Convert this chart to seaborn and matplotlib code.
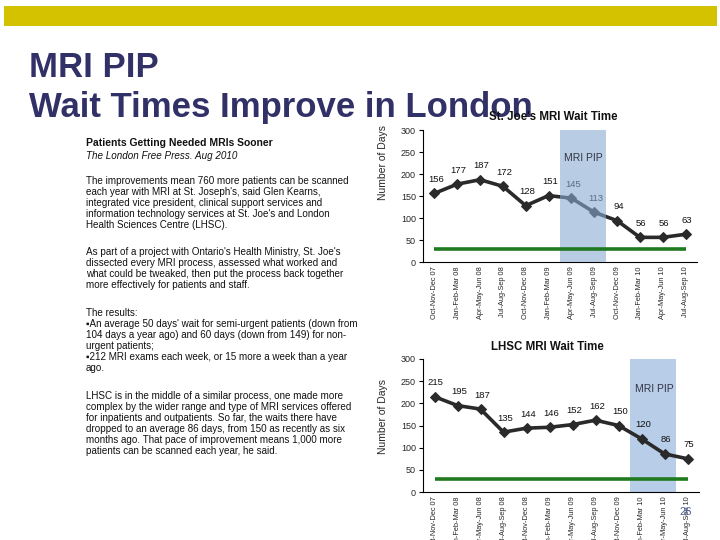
import numpy as np
import pandas as pd
import seaborn as sns
import matplotlib.pyplot as plt
from matplotlib.patches import Rectangle

# Quarterly wait times (days)
periods = ["Oct-Nov-Dec 07", "Jan-Feb-Mar 08", "Apr-May-Jun 08", "Jul-Aug-Sep 08",
           "Oct-Nov-Dec 08", "Jan-Feb-Mar 09", "Apr-May-Jun 09", "Jul-Aug-Sep 09",
           "Oct-Nov-Dec 09", "Jan-Feb-Mar 10", "Apr-May-Jun 10", "Jul-Aug-Sep 10"]
stjoe_days = [156, 177, 187, 172, 128, 151, 145, 113, 94, 56, 56, 63]
lhsc_days = [215, 195, 187, 135, 144, 146, 152, 162, 150, 120, 86, 75]
target_days = 30
stjoe_pip = (6, 7)   # quarters under MRI PIP
lhsc_pip = (9, 10)
yticks = [0, 50, 100, 150, 200, 250, 300]

sns.set_theme(style='white')
plt.rcParams['font.family'] = ['Liberation Sans', 'DejaVu Sans']

W, H = 720, 540
fig = plt.figure(figsize=(7.2, 5.4), dpi=100)


def fx(px):
    return px / W


def fy(py):
    return 1 - py / H


# yellow banner
fig.patches.append(Rectangle((fx(4), fy(26)), fx(713), 20 / H, transform=fig.transFigure,
                             facecolor='#D4C100', edgecolor='none'))

title_col = '#313168'
fig.text(fx(29), fy(77), 'MRI PIP', fontsize=25, fontweight='bold', color=title_col, va='baseline')
fig.text(fx(29), fy(117), 'Wait Times Improve in London', fontsize=25, fontweight='bold',
         color=title_col, va='baseline')

# article text on the left
paragraphs = [
    (143, ['Patients Getting Needed MRIs Sooner'], dict(fontweight='bold', fontsize=7.5)),
    (156, ['The London Free Press. Aug 2010'], dict(style='italic')),
    (181, ['The improvements mean 760 more patients can be scanned',
           "each year with MRI at St. Joseph's, said Glen Kearns,",
           'integrated vice president, clinical support services and',
           "information technology services at St. Joe's and London",
           'Health Sciences Centre (LHSC).'], {}),
    (252, ["As part of a project with Ontario's Health Ministry, St. Joe's",
           'dissected every MRI process, assessed what worked and',
           'what could be tweaked, then put the process back together',
           'more effectively for patients and staff.'], {}),
    (313, ['The results:',
           "\u25aaAn average 50 days' wait for semi-urgent patients (down from",
           '104 days a year ago) and 60 days (down from 149) for non-',
           'urgent patients;',
           '\u25aa212 MRI exams each week, or 15 more a week than a year',
           'ago.'], {}),
    (396, ['LHSC is in the middle of a similar process, one made more',
           'complex by the wider range and type of MRI services offered',
           'for inpatients and outpatients. So far, the waits there have',
           'dropped to an average 86 days, from 150 as recently as six',
           'months ago. That pace of improvement means 1,000 more',
           'patients can be scanned each year, he said.'], {}),
]
for y0, lines, kw in paragraphs:
    opts = dict(fontsize=7.1, color='#111111', va='center', ha='left')
    opts.update(kw)
    for i, line in enumerate(lines):
        fig.text(fx(86), fy(y0 + 11 * i), line, **opts)


def draw_chart(ax, values, pip, title, title_xy, pip_xy, overlay):
    x = np.arange(len(values))
    df = pd.DataFrame({'q': x, 'days': values})
    sns.lineplot(data=df, x='q', y='days', ax=ax, color='#2A2A2A', linewidth=2.6,
                 marker='D', markersize=5, markeredgecolor='#2A2A2A', zorder=3)
    ax.hlines(target_days, x[0], x[-1], color='#1F7A1F', linewidth=2.6, zorder=6)
    if overlay:
        ax.axvspan(pip[0] - 0.5, pip[1] + 0.5, ymin=0, ymax=1, facecolor='#89AAD2',
                   alpha=0.6, edgecolor='none', zorder=5)
    else:
        ax.axvspan(pip[0] - 0.5, pip[1] + 0.5, ymin=0, ymax=1, facecolor='#B8CDE8',
                   edgecolor='none', zorder=0)
    for xi, v in zip(x, values):
        ax.annotate(str(v), (xi, v), xytext=(1, 10), textcoords='offset points',
                    ha='center', va='center', fontsize=6.8, color='#111111', zorder=4)
    ax.set_xlim(-0.5, len(values) - 0.5)
    ax.set_ylim(0, 300)
    ax.set_yticks(yticks)
    ax.set_yticklabels([str(t) for t in yticks], fontsize=6.5)
    ax.set_xticks(x)
    ax.set_xticklabels(periods, rotation=90, fontsize=5.3, va='top')
    ax.set_xticks(np.arange(-0.5, len(values)), minor=True)
    ax.tick_params(axis='x', which='major', length=0, pad=3)
    ax.tick_params(axis='x', which='minor', length=3, width=0.8, direction='out', color='black')
    ax.tick_params(axis='y', length=3, width=0.8, direction='out', color='black', pad=2, left=True)
    ax.set_xlabel('')
    ax.set_ylabel('')
    for s in ['top', 'right']:
        ax.spines[s].set_visible(False)
    for s in ['left', 'bottom']:
        ax.spines[s].set_color('black')
        ax.spines[s].set_linewidth(0.8)
    fig.text(fx(title_xy[0]), fy(title_xy[1]), title, fontsize=8.3, fontweight='bold',
             ha='center', va='center', color='#111111', zorder=10)
    fig.text(fx(pip_xy[0]), fy(pip_xy[1]), 'MRI PIP', fontsize=7.5, ha='center', va='center',
             color='#333344', zorder=10)


ax1 = fig.add_axes([fx(423), fy(262), fx(697 - 423), (262 - 130) / H])
draw_chart(ax1, stjoe_days, stjoe_pip, "St. Joe's MRI Wait Time", (553, 117), (583, 158), True)
fig.text(fx(383), fy(163), 'Number of Days', rotation=90, fontsize=7.5, ha='center', va='center')

ax2 = fig.add_axes([fx(423), fy(492), fx(699 - 423), (492 - 359) / H])
draw_chart(ax2, lhsc_days, lhsc_pip, 'LHSC MRI Wait Time', (547, 347), (654, 389), False)
fig.text(fx(383), fy(416), 'Number of Days', rotation=90, fontsize=7.5, ha='center', va='center')

# slide number
fig.text(fx(686), fy(512), '26', fontsize=8, color='#5060A0', ha='center', va='center')

fig.savefig('out.png', dpi=100)
